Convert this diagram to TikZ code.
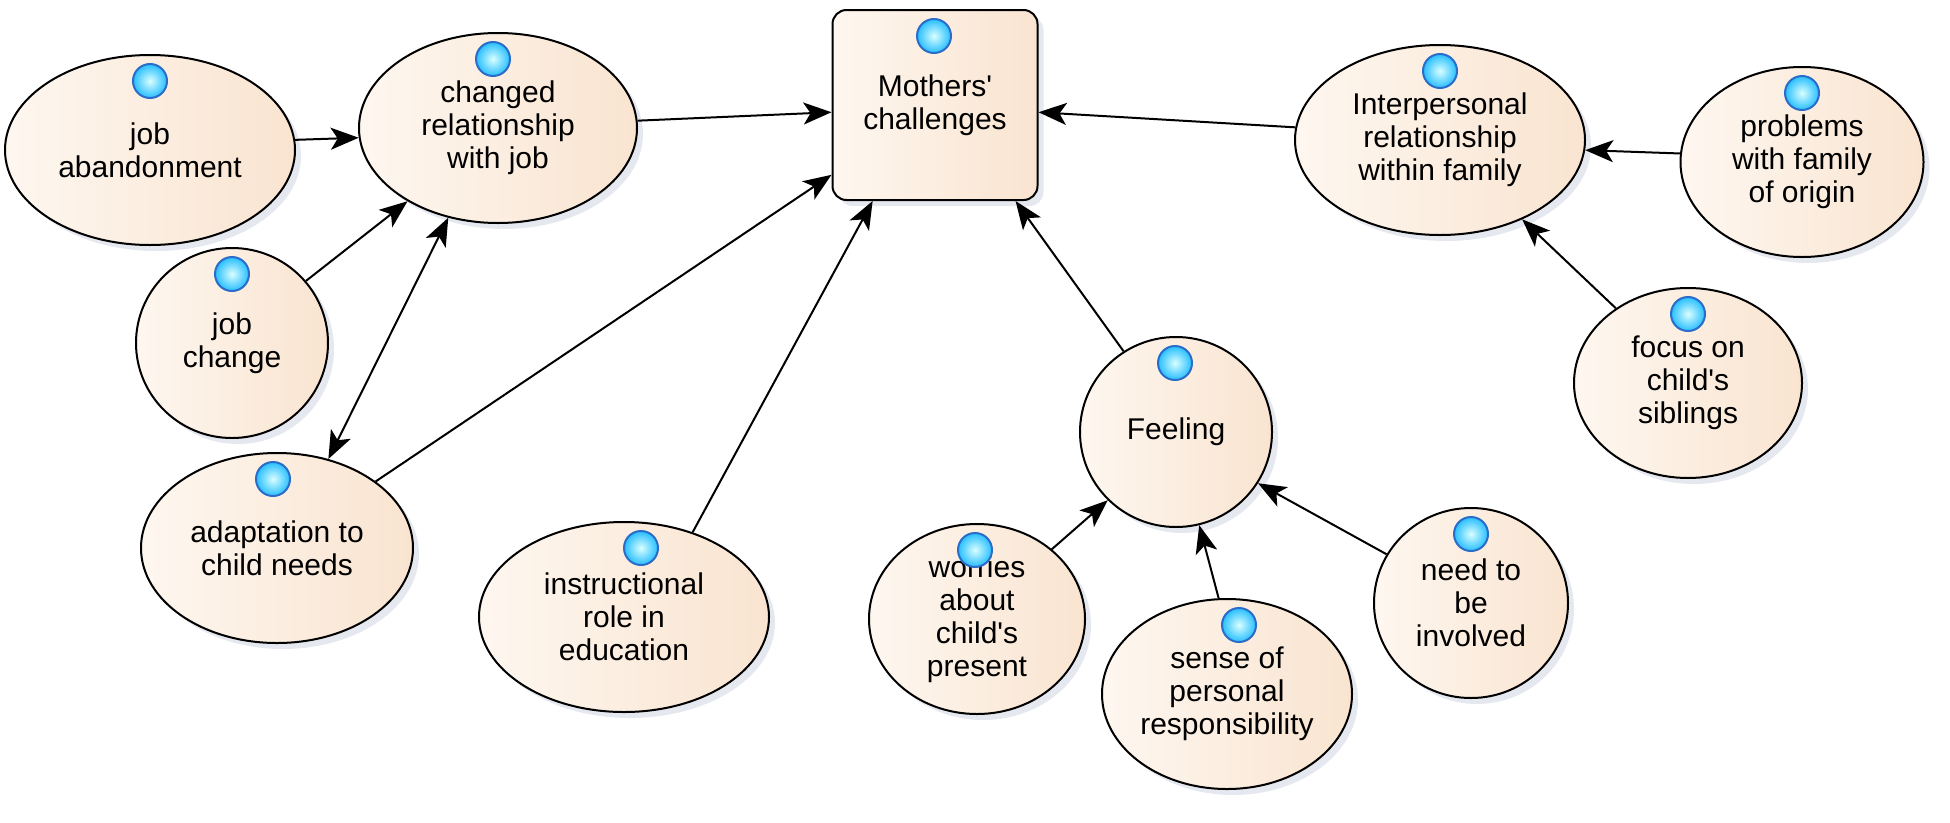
\documentclass[tikz,border=0pt]{standalone}
\usepackage{fontspec}
\setmainfont{Liberation Sans}
\usetikzlibrary{shapes.geometric,arrows.meta,shadows,calc}
\definecolor{bubA}{HTML}{FEF7F0}
\definecolor{bubB}{HTML}{F9E4D0}
\definecolor{shad}{HTML}{B4BED2}
\definecolor{iconrim}{HTML}{2A6CC8}
\tikzset{
	head/.tip={Stealth[length=28pt,width=22pt,inset=7pt]},
	bubble/.style={ellipse,draw=black,line width=2pt,left color=bubA,right color=bubB,inner sep=0pt,align=center,minimum height=190pt,
		drop shadow={shadow xshift=6pt,shadow yshift=-6pt,opacity=.35,fill=shad}},
	box/.style={bubble,rectangle,rounded corners=14pt},
	link/.style={line width=2pt,-head},
	icon/.style={inner color=white!85!cyan,outer color=cyan!70!blue!85,draw=iconrim,line width=2pt}
}
\begin{document}
\begin{tikzpicture}[x=1pt,y=-1pt,every node/.style={font=\fontsize{30}{33}\selectfont}]
	\useasboundingbox (0,0) rectangle (1950,822);
	\node[bubble,minimum width=290pt] (jab) at (150,150) {job\\abandonment};
	\node[bubble,minimum width=278pt] (chg) at (498,128) {changed\\relationship\\with job};
	\node[box,minimum width=205pt] (mc) at (935,105) {Mothers\textquotesingle\\challenges};
	\node[bubble,minimum width=290pt] (ipr) at (1440,140) {Interpersonal\\relationship\\within family};
	\node[bubble,minimum width=243pt] (pfo) at (1802,162) {problems\\with family\\of origin};
	\node[bubble,minimum width=192pt] (jch) at (232,343) {job\\change};
	\node[bubble,minimum width=228pt] (foc) at (1688,383) {focus on\\child\textquotesingle s\\siblings};
	\node[bubble,minimum width=192pt] (fee) at (1176,432) {Feeling};
	\node[bubble,minimum width=272pt] (adp) at (277,548) {adaptation to\\child needs};
	\node[bubble,minimum width=290pt] (ins) at (624,617) {instructional\\role in\\education};
	\node[bubble,minimum width=216pt] (wor) at (977,619) {worries\\about\\child\textquotesingle s\\present};
	\node[bubble,minimum width=250pt] (spr) at (1227,694) {sense of\\personal\\responsibility};
	\node[bubble,minimum width=194pt] (nee) at (1471,603) {need to\\be\\involved};
	\foreach \n/\d in {jab/0,chg/-5,mc/-1,ipr/0,pfo/0,jch/0,foc/0,fee/-1,adp/-4,ins/17,wor/-2,spr/12,nee/0}
		\shade[icon] ($(\n.north)+(\d,27)$) circle (17pt);
	\draw[link] (jab.4) -- (chg.184);
	\draw[link] (chg.3) -- (mc.184);
	\draw[link] (ipr.175) -- (mc.-4);
	\draw[link] (pfo.176) -- (ipr.-4);
	\draw[link] (foc.134) -- (ipr.-44);
	\draw[link] (jch.40) -- (chg.219);
	\draw[link,head-head] (adp.60) -- (chg.241);
	\draw[link] (adp.34) -- (mc.214);
	\draw[link] (ins.51) -- (mc.237);
	\draw[link] (fee.123) -- (mc.-50);
	\draw[link] (wor.43) -- (fee.225);
	\draw[link] (spr.95) -- (fee.-76);
	\draw[link] (nee.150) -- (fee.-32);
\end{tikzpicture}
\end{document}
